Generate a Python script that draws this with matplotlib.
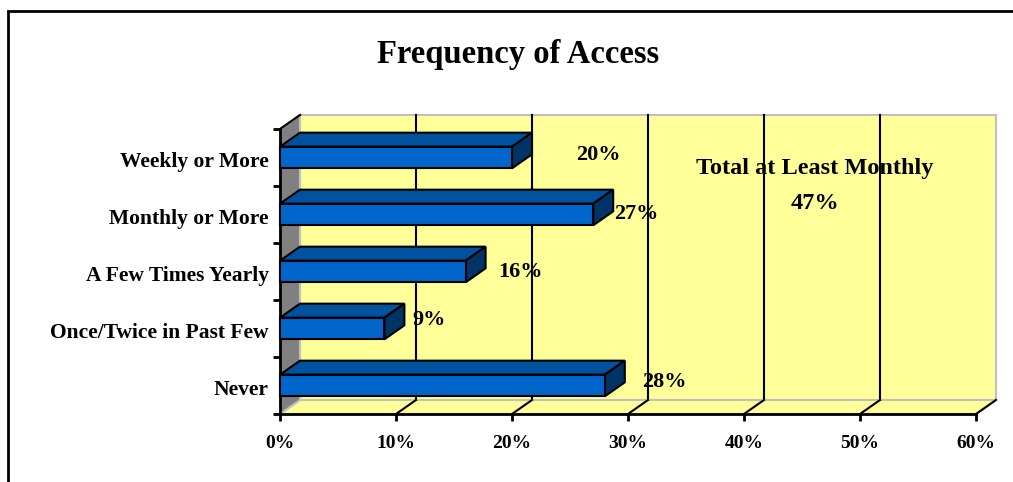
import matplotlib
matplotlib.use("Agg")
import matplotlib.pyplot as plt
from matplotlib.patches import Polygon, Rectangle
import numpy as np

# категории сверху вниз и доли в процентах
categories = ["Weekly or More", "Monthly or More", "A Few Times Yearly",
              "Once/Twice in Past Few", "Never"]
values = [20, 27, 16, 9, 28]
x_ticks = [0, 10, 20, 30, 40, 50, 60]
total_label = "Total at Least Monthly"
total_value = 47

W, H = 1013, 482
SERIF = ["Liberation Serif", "DejaVu Serif"]

plt.rcParams["font.family"] = SERIF
plt.rcParams["font.weight"] = "bold"

fig = plt.figure(figsize=(W / 100, H / 100), dpi=100)
fig.patches.append(Rectangle((8 / W, -0.1), 1.2, 1 - 11 / H + 0.1,
                             transform=fig.transFigure, fill=False,
                             edgecolor="black", linewidth=2))

ax = fig.add_axes([280 / W, 1 - 414 / H, 696 / W, 285 / H])
ax.set_xlim(0, 60)
ax.set_ylim(-0.5, 4.5)
ax.patch.set_visible(False)

# глубина "3D" в единицах данных (20 px вправо, 14 px вверх)
dx = 20 * 60 / 696
dy = 14 * 5 / 285
ypos = np.arange(len(categories))[::-1]
h = 0.19

yellow = "#FFFF99"
wall_edge = "#C0C0C0"

# задняя стенка
ax.add_patch(Rectangle((dx, -0.5 + dy), 60, 5, facecolor=yellow,
                       edgecolor=wall_edge, linewidth=1.5, clip_on=False, zorder=0))

# подписи значений лежат на стенке, под линиями сетки
label_shift = [(3.8, 0.04), (0.1, 0.01), (1.1, -0.01), (0.7, 0.15), (1.5, 0.06)]
for y, v, (sx, sy) in zip(ypos, values, label_shift):
    ax.text(v + dx + sx, y + sy, f"{v}%", ha="left", va="center",
            fontsize=16, fontweight="bold", zorder=0.3)

ax.text(46.1, 3.8, total_label, ha="center", va="center",
        fontsize=17.5, fontweight="bold", zorder=0.3)
ax.text(46.1, 3.2, f"{total_value}%", ha="center", va="center",
        fontsize=17.5, fontweight="bold", zorder=0.3)

# сетка
for t in x_ticks[1:-1]:
    ax.plot([t + dx, t + dx], [-0.5 + dy, 4.5 + dy], color="black", lw=1.5,
            clip_on=False, zorder=0.5)
# пол
ax.add_patch(Polygon([(0, -0.5), (60, -0.5), (60 + dx, -0.5 + dy), (dx, -0.5 + dy)],
                     closed=True, facecolor=yellow, edgecolor=wall_edge,
                     linewidth=1.5, clip_on=False, zorder=0.6))
for t in x_ticks[1:]:
    ax.plot([t, t + dx], [-0.5, -0.5 + dy], color="black", lw=1.5,
            clip_on=False, zorder=0.7)
# левая стенка
ax.add_patch(Polygon([(0, -0.5), (0, 4.5), (dx, 4.5 + dy), (dx, -0.5 + dy)],
                     closed=True, facecolor="#808080", edgecolor=wall_edge,
                     linewidth=1.5, clip_on=False, zorder=0.8))
ax.plot([0, dx], [4.5, 4.5 + dy], color="black", lw=1.5, clip_on=False, zorder=0.9)

# столбцы: передняя грань, верх и торец
for y, v in zip(ypos, values):
    top = Polygon([(0, y + h), (v, y + h), (v + dx, y + h + dy), (dx, y + h + dy)],
                  closed=True, facecolor="#00529F", edgecolor="black", lw=1.5, zorder=3)
    side = Polygon([(v, y - h), (v, y + h), (v + dx, y + h + dy), (v + dx, y - h + dy)],
                   closed=True, facecolor="#003366", edgecolor="black", lw=1.5, zorder=3)
    front = Rectangle((0, y - h), v, 2 * h, facecolor="#0066CC",
                      edgecolor="black", lw=1.5, zorder=3)
    for p in (top, side, front):
        p.set_clip_on(False)
        ax.add_patch(p)

# оси
for s in ("top", "right"):
    ax.spines[s].set_visible(False)
for s in ("left", "bottom"):
    ax.spines[s].set_linewidth(2)
    ax.spines[s].set_zorder(2)

ax.set_xticks(x_ticks, [f"{t}%" for t in x_ticks])
ax.tick_params(axis="x", length=5, width=2, pad=10, labelsize=14)
ax.set_yticks(ypos - 0.03, categories)
ax.tick_params(axis="y", which="major", length=0, pad=8, labelsize=15.5)
ax.set_yticks(np.arange(-0.5, 5, 1), minor=True)
ax.tick_params(axis="y", which="minor", length=5, width=2)

fig.text(518 / W, 1 - 55 / H, "Frequency of Access", ha="center", va="center",
         fontsize=23.5, fontweight="bold")

fig.savefig("out.png", dpi=100)
